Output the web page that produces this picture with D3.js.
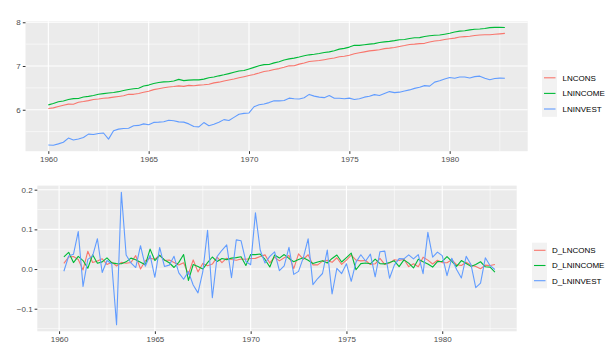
<!DOCTYPE html>
<html>
<head>
<meta charset="utf-8">
<script src="https://cdn.jsdelivr.net/npm/d3@7"></script>
<style>
  body { margin: 0; background: #fff; }
  svg { display: block; font-family: "Liberation Sans", Arial, sans-serif; }
</style>
</head>
<body>
<div id="chart"></div>
<script>
// quarterly data, 1960Q1 - 1982Q4 (levels)
const startYear = 1960;
const invest = [180,179,185,192,211,202,207,214,231,229,234,237,206,250,259,263,264,280,282,292,286,302,304,307,317,314,306,304,292,275,273,301,280,289,303,322,315,339,364,371,375,432,453,460,475,496,494,498,526,519,516,531,573,551,538,532,558,524,525,519,526,510,519,538,549,570,559,584,611,597,603,619,635,658,675,700,692,759,782,816,844,830,853,852,833,860,870,830,801,824,831,830];
const income = [451,465,485,493,509,520,521,540,548,558,574,583,591,599,610,627,642,653,660,694,709,734,751,763,766,779,808,785,794,799,799,812,837,853,876,897,922,949,979,988,1025,1063,1104,1131,1137,1178,1211,1256,1290,1314,1346,1385,1416,1436,1462,1493,1516,1557,1613,1642,1690,1759,1756,1780,1807,1831,1877,1903,1928,1960,2001,2013,2060,2091,2097,2150,2190,2218,2229,2271,2315,2389,2436,2452,2505,2540,2557,2587,2635,2650,2663,2643];
const cons = [415,421,434,448,459,458,479,487,497,510,516,525,529,538,546,555,574,574,586,602,617,639,653,668,679,686,697,688,704,699,709,715,724,746,758,779,798,816,837,858,881,905,934,968,983,1013,1034,1064,1101,1102,1145,1173,1216,1229,1242,1267,1295,1317,1355,1371,1402,1452,1485,1516,1549,1567,1588,1631,1650,1675,1715,1752,1796,1807,1831,1842,1898,1941,1966,2010,2043,2076,2125,2149,2168,2205,2226,2241,2243,2265,2285,2311];

const seriesNames = ["LNCONS", "LNINCOME", "LNINVEST"];
const diffNames = ["D_LNCONS", "D_LNINCOME", "D_LNINVEST"];
const colors = ["#F8766D", "#00BA38", "#619CFF"];

const topTicks = [6, 7, 8];
const topMinor = [5.5, 6.5, 7.5];
const botTicks = [-0.1, 0, 0.1, 0.2];
const botMinor = [-0.15, -0.05, 0.05, 0.15];
const xTicks = [1960, 1965, 1970, 1975, 1980];
const xMinor = [1962.5, 1967.5, 1972.5, 1977.5, 1982.5];

const width = 615, height = 360;

const t = invest.map((_, i) => startYear + i / 4);
const levels = [cons, income, invest].map((arr, k) => ({
  name: seriesNames[k], color: colors[k],
  values: arr.map((v, i) => [t[i], Math.log(v)])
}));
const diffs = [cons, income, invest].map((arr, k) => ({
  name: diffNames[k], color: colors[k],
  values: arr.slice(1).map((v, i) => [t[i + 1], Math.log(v) - Math.log(arr[i])])
}));

const svg = d3.select("#chart").append("svg")
  .attr("width", width).attr("height", height);

function expand(ext, f = 0.05) {
  const r = ext[1] - ext[0];
  return [ext[0] - r * f, ext[1] + r * f];
}

const xDomain = expand(d3.extent(t));

function panel(opts) {
  const { left, right, top, bottom, series, yTicks, yMinor, yFmt, legend } = opts;
  const x = d3.scaleLinear().domain(xDomain).range([left, right]);
  const allY = series.flatMap(s => s.values.map(d => d[1]));
  const y = d3.scaleLinear().domain(expand(d3.extent(allY))).range([bottom, top]);

  const g = svg.append("g");
  g.append("rect").attr("x", left).attr("y", top)
    .attr("width", right - left).attr("height", bottom - top)
    .attr("fill", "#EBEBEB");

  // minor grid
  g.selectAll(".ymin").data(yMinor).join("line")
    .attr("x1", left).attr("x2", right)
    .attr("y1", d => y(d)).attr("y2", d => y(d))
    .attr("stroke", "#fff").attr("stroke-width", 0.55);
  g.selectAll(".xmin").data(xMinor).join("line")
    .attr("x1", d => x(d)).attr("x2", d => x(d))
    .attr("y1", top).attr("y2", bottom)
    .attr("stroke", "#fff").attr("stroke-width", 0.55);
  // major grid
  g.selectAll(".ymaj").data(yTicks).join("line")
    .attr("x1", left).attr("x2", right)
    .attr("y1", d => y(d)).attr("y2", d => y(d))
    .attr("stroke", "#fff").attr("stroke-width", 1.1);
  g.selectAll(".xmaj").data(xTicks).join("line")
    .attr("x1", d => x(d)).attr("x2", d => x(d))
    .attr("y1", top).attr("y2", bottom)
    .attr("stroke", "#fff").attr("stroke-width", 1.1);

  // axes
  const ya = svg.append("g").attr("transform", `translate(${left},0)`)
    .call(d3.axisLeft(y).tickValues(yTicks).tickSize(2.7).tickPadding(2).tickFormat(yFmt));
  const xa = svg.append("g").attr("transform", `translate(0,${bottom})`)
    .call(d3.axisBottom(x).tickValues(xTicks).tickSize(2.7).tickPadding(2).tickFormat(d3.format("d")));
  [ya, xa].forEach(a => {
    a.select(".domain").remove();
    a.selectAll(".tick line").attr("stroke", "#333333").attr("stroke-width", 1);
    a.selectAll(".tick text").attr("fill", "#4D4D4D").style("font-size", "8px");
  });

  const line = d3.line(d => x(d[0]), d => y(d[1]));
  g.selectAll(".series").data(series).join("path")
    .attr("d", s => line(s.values))
    .attr("fill", "none")
    .attr("stroke", s => s.color)
    .attr("stroke-width", 1.1)
    .attr("stroke-linejoin", "round");

  // legend
  const lg = svg.append("g");
  lg.append("rect").attr("x", legend.x).attr("y", legend.y)
    .attr("width", 15).attr("height", legend.step * series.length)
    .attr("fill", "#F2F2F2");
  series.forEach((s, i) => {
    const cy = legend.y + legend.step * (i + 0.5);
    lg.append("line").attr("x1", legend.x + 2).attr("x2", legend.x + 13.5)
      .attr("y1", cy).attr("y2", cy)
      .attr("stroke", s.color).attr("stroke-width", 1.1);
    lg.append("text").attr("x", legend.tx).attr("y", cy)
      .attr("dy", "0.35em").style("font-size", "8px").attr("fill", "#000")
      .text(s.name);
  });
}

panel({
  left: 25.5, right: 527.7, top: 21.3, bottom: 151.2,
  series: levels, yTicks: topTicks, yMinor: topMinor,
  yFmt: d3.format("d"),
  legend: { x: 542, y: 70, step: 15.6, tx: 562.5 }
});

panel({
  left: 37.3, right: 516.7, top: 185.6, bottom: 331.3,
  series: diffs, yTicks: botTicks, yMinor: botMinor,
  yFmt: d => d3.format(".1f")(d).replace("-", "\u2212"),
  legend: { x: 532, y: 242.7, step: 15.2, tx: 552 }
});
</script>
</body>
</html>
